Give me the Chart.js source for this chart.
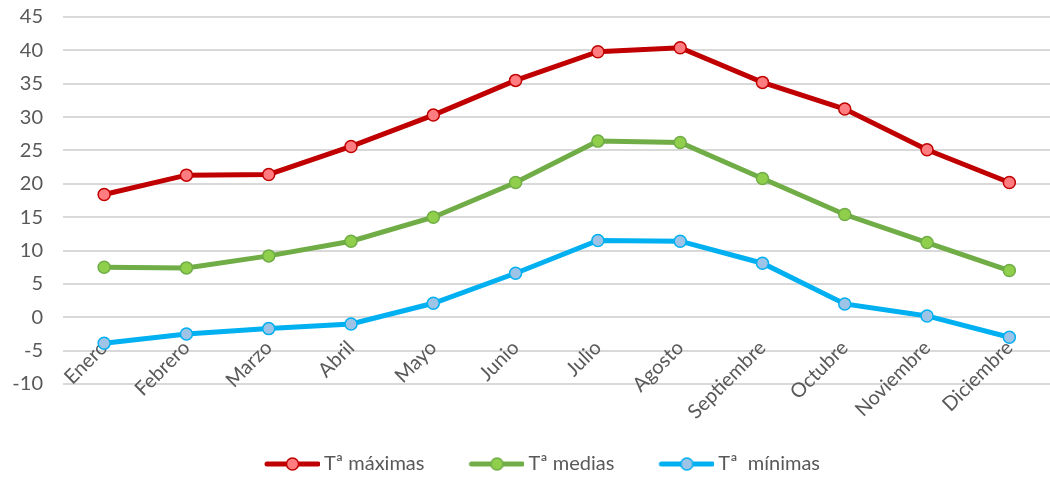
<!DOCTYPE html>
<html>
<head>
<meta charset="utf-8">
<script src="https://cdn.jsdelivr.net/npm/chart.js@4"></script>
<style>
  html, body { margin: 0; padding: 0; background: #fff; overflow: hidden; }
</style>
</head>
<body>
<canvas id="tempChart" width="1058" height="477"></canvas>
<script>
const meses = ["Enero", "Febrero", "Marzo", "Abril", "Mayo", "Junio", "Julio", "Agosto", "Septiembre", "Octubre", "Noviembre", "Diciembre"];
const maximas = [18.4, 21.3, 21.4, 25.6, 30.3, 35.5, 39.8, 40.4, 35.2, 31.2, 25.1, 20.2];
const medias = [7.5, 7.4, 9.2, 11.4, 15.0, 20.2, 26.4, 26.2, 20.8, 15.4, 11.2, 7.0];
const minimas = [-3.9, -2.5, -1.7, -1.0, 2.1, 6.6, 11.5, 11.4, 8.1, 2.0, 0.2, -3.0];
const yTicks = [-10, -5, 0, 5, 10, 15, 20, 25, 30, 35, 40, 45];

const textColor = "#595959";

// marcador de leyenda: línea con círculo
function marker(lineColor, fill) {
  const c = document.createElement("canvas");
  c.width = 88;
  c.height = 16;
  const g = c.getContext("2d");
  g.strokeStyle = lineColor;
  g.lineWidth = 5;
  g.lineCap = "round";
  g.beginPath();
  g.moveTo(35, 8);
  g.lineTo(86, 8);
  g.stroke();
  g.beginPath();
  g.arc(60.5, 8, 6, 0, 2 * Math.PI);
  g.fillStyle = fill;
  g.fill();
  g.lineWidth = 1.5;
  g.stroke();
  return c;
}

const series = [
  { label: "Tª máximas", data: maximas, line: "#c00000", fill: "#ff7c80" },
  { label: "Tª medias", data: medias, line: "#70ad47", fill: "#8fcf4c" },
  { label: "Tª  mínimas", data: minimas, line: "#00b0f0", fill: "#9dc3e6" },
];
const markers = series.map(s => marker(s.line, s.fill));

const ctx = document.getElementById("tempChart").getContext("2d");
new Chart(ctx, {
  type: "line",
  data: {
    labels: meses,
    datasets: series.map(s => ({
      label: s.label,
      data: s.data,
      borderColor: s.line,
      backgroundColor: s.fill,
      borderWidth: 5,
      pointRadius: 6,
      pointBorderWidth: 1.5,
      pointBorderColor: s.line,
      pointBackgroundColor: s.fill,
      tension: 0,
    })),
  },
  options: {
    responsive: false,
    animation: false,
    layout: { padding: { top: 17, left: 0, right: 0, bottom: -7 } },
    scales: {
      x: {
        offset: true,
        grid: { display: false, drawTicks: false },
        border: { display: false },
        ticks: {
          color: textColor,
          font: { family: "Lato", size: 20 },
          minRotation: 45,
          maxRotation: 45,
          padding: -48,
          autoSkip: false,
        },
        afterFit(scale) {
          scale.height = 52;
          scale.paddingLeft = 0;
          scale.paddingRight = 0;
          // las etiquetas se dibujan dentro del área del gráfico, sin recorte
          scale._computeLabelArea = () => undefined;
        },
      },
      y: {
        min: -10,
        max: 45,
        afterBuildTicks(scale) {
          scale.ticks = yTicks.map(v => ({ value: v }));
        },
        grid: { color: "#d9d9d9", lineWidth: 2, drawTicks: false },
        border: { display: false },
        ticks: {
          color: textColor,
          font: { family: "Lato", size: 20 },
          padding: 20,
        },
        afterFit(scale) {
          scale.width = 63;
          scale.paddingTop = 0;
          scale.paddingBottom = 0;
        },
      },
    },
    plugins: {
      legend: {
        position: "bottom",
        labels: {
          color: textColor,
          font: { family: "Lato", size: 20 },
          usePointStyle: true,
          pointStyleWidth: 76,
          padding: 18,
          generateLabels(chart) {
            const items = Chart.defaults.plugins.legend.labels.generateLabels(chart);
            items.forEach((it, i) => { it.pointStyle = markers[i]; });
            return items;
          },
        },
      },
      tooltip: { enabled: false },
    },
  },
});
</script>
</body>
</html>
